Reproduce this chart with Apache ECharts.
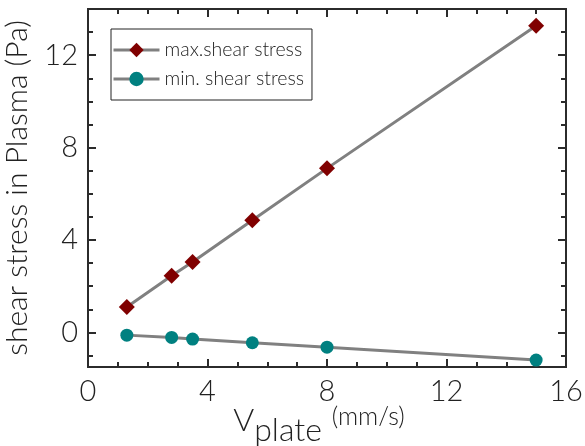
<!DOCTYPE html>
<html><head><meta charset="utf-8">
<script src="https://cdn.jsdelivr.net/npm/echarts@6/dist/echarts.min.js"></script>
<style>html,body{margin:0;padding:0;background:#fff}#c{width:585px;height:446px}</style>
</head><body><div id="c"></div>
<script>
const vPlate = [1.3, 2.8, 3.5, 5.5, 8.0, 15.0];
const maxShear = [1.1, 2.45, 3.05, 4.85, 7.1, 13.27];
const minShear = [-0.12, -0.22, -0.29, -0.45, -0.64, -1.2];
const yMajor = [0, 4, 8, 12];
const yMinor = [-1, 0, 1, 2, 3, 4, 5, 6, 7, 8, 9, 10, 11, 12, 13];
const seriesNames = ['max.shear stress', 'min. shear stress'];

const FONT = 'Lato';
const chart = echarts.init(document.getElementById('c'));
const lineCol = '#2b2b2b';
function yAx(pos, ticks, len, labels, extra) {
  return Object.assign({
    type: 'value', position: pos, min: -1.5, max: 14,
    axisLine: {show: true, onZero: false, lineStyle: {color: lineCol, width: 2}},
    axisTick: {show: true, inside: true, length: len, customValues: ticks, lineStyle: {color: lineCol, width: 2}},
    axisLabel: labels ? {show: true, customValues: yMajor, fontFamily: FONT, fontWeight: 300, fontSize: 29, color: '#222', margin: 10} : {show: false},
    splitLine: {show: false}
  }, extra || {});
}
function xAx(pos, labels, extra) {
  return Object.assign({
    type: 'value', position: pos, min: 0, max: 16, interval: 4,
    axisLine: {show: true, onZero: false, lineStyle: {color: lineCol, width: 2}},
    axisTick: {show: true, inside: true, length: 8, lineStyle: {color: lineCol, width: 2}},
    minorTick: {show: true, splitNumber: 4, length: 5, lineStyle: {color: lineCol, width: 2}},
    axisLabel: labels ? {show: true, fontFamily: FONT, fontWeight: 300, fontSize: 29, color: '#222', margin: 10} : {show: false},
    splitLine: {show: false}, minorSplitLine: {show: false}
  }, extra || {});
}
const option = {
  animation: false,
  grid: {left: 88, right: 19, top: 9, bottom: 79, containLabel: false, outerBoundsMode: 'none'},
  xAxis: [
    xAx('bottom', true, {
      name: '{v|V}{sub|plate}{sup|(mm/s)}', nameLocation: 'middle', nameGap: 36, nameMoveOverlap: false,
      nameTextStyle: {rich: {
        v: {fontFamily: FONT, fontWeight: 300, fontSize: 32, color: '#222', padding: [0, 0, 8, 0]},
        sub: {fontFamily: FONT, fontWeight: 300, fontSize: 32, color: '#222', padding: [12, 0, 0, 0]},
        sup: {fontFamily: FONT, fontWeight: 300, fontSize: 25, color: '#222', padding: [0, 16, 16, 10]}
      }}
    }),
    xAx('top', false)
  ],
  yAxis: [
    yAx('left', yMajor, 8, true, {
      name: 'shear stress in Plasma (Pa)', nameLocation: 'middle', nameGap: 56, nameMoveOverlap: false,
      nameTextStyle: {fontFamily: FONT, fontWeight: 300, fontSize: 30, color: '#222'}
    }),
    yAx('left', yMinor, 5, false),
    yAx('right', yMajor, 8, false),
    yAx('right', yMinor, 5, false)
  ],
  legend: {
    left: 111, top: 29, orient: 'vertical',
    borderColor: '#222', borderWidth: 1,
    padding: [11, 8, 11, 1], itemGap: 9, itemWidth: 46, itemHeight: 18,
    lineStyle: {width: 3, color: '#808080'},
    textStyle: {fontFamily: FONT, fontWeight: 300, fontSize: 19.5, color: '#222'},
    data: seriesNames
  },
  series: [
    {
      name: seriesNames[0], type: 'line', xAxisIndex: 0, yAxisIndex: 0,
      data: vPlate.map((x, i) => [x, maxShear[i]]),
      symbol: 'diamond', symbolSize: 16,
      itemStyle: {color: '#800000'},
      lineStyle: {color: '#808080', width: 3}
    },
    {
      name: seriesNames[1], type: 'line', xAxisIndex: 0, yAxisIndex: 0,
      data: vPlate.map((x, i) => [x, minShear[i]]),
      symbol: 'circle', symbolSize: 13,
      itemStyle: {color: '#008080'},
      lineStyle: {color: '#808080', width: 3}
    }
  ]
};
chart.setOption(option);
</script></body></html>
